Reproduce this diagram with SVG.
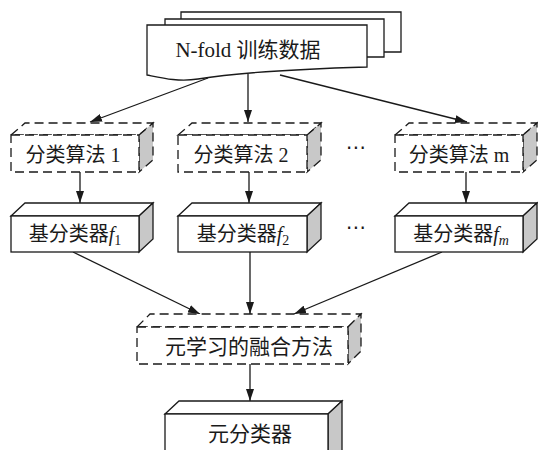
<svg xmlns="http://www.w3.org/2000/svg" width="538" height="450" viewBox="0 0 538 450">
<style>
  .ln { fill: none; stroke: #1a1a1a; stroke-width: 1.3; }
  .face { fill: #ffffff; stroke: #1a1a1a; stroke-width: 1.3; stroke-linejoin: miter; }
  .side { fill: #c8c8c8; stroke: #1a1a1a; stroke-width: 1.3; }
  .dash { stroke-dasharray: 9 5; }
  .t { font-family: "Liberation Serif", "Noto Sans CJK SC", serif; font-size: 20px; fill: #1a1a1a; text-anchor: middle; }
  .t21 { font-size: 21px; }
  .dots { font-family: "DejaVu Sans", sans-serif; font-size: 20px; fill: #1a1a1a; text-anchor: middle; }
</style>
<defs>
  <marker id="ah" markerUnits="userSpaceOnUse" markerWidth="13" markerHeight="8" refX="12" refY="4" orient="auto">
    <path d="M0,0 L12,4 L0,8 z" fill="#1a1a1a"/>
  </marker>
</defs>
<rect width="538" height="450" fill="#ffffff"/>

<g id="connectors" class="ln">
  <line x1="208" y1="78" x2="90" y2="122" marker-end="url(#ah)"/>
  <line x1="248" y1="74" x2="248" y2="122" marker-end="url(#ah)"/>
  <line x1="280" y1="75" x2="467" y2="122" marker-end="url(#ah)"/>
  <line x1="80" y1="172" x2="80" y2="203" marker-end="url(#ah)"/>
  <line x1="249" y1="172" x2="249" y2="203" marker-end="url(#ah)"/>
  <line x1="466" y1="172" x2="466" y2="203" marker-end="url(#ah)"/>
  <line x1="73" y1="252" x2="200" y2="314" marker-end="url(#ah)"/>
  <line x1="250" y1="252" x2="250" y2="314" marker-end="url(#ah)"/>
  <line x1="442" y1="252" x2="294" y2="314" marker-end="url(#ah)"/>
  <line x1="250" y1="364" x2="250" y2="401" marker-end="url(#ah)"/>
</g>

<g id="data">
  <path class="face" d="M181,19 V12 H401 V52 H384"/>
  <path class="face" d="M165,25 V19 H384 V57 H367"/>
  <path class="face" d="M147,25 H367 V67 C300,69 235,73 198,79 C178,82 162,78 147,75 Z"/>
  <text class="t t21" x="248" y="57">N-fold 训练数据</text>
</g>

<g id="alg1">
  <polygon class="face dash" points="11,135 25,123 153,123 139,135"/>
  <polygon class="side dash" points="139,135 153,123 153,160 139,172"/>
  <rect class="face dash" x="11" y="135" width="128" height="37"/>
  <text class="t" x="73" y="162">分类算法 1</text>
</g>
<g id="alg2">
  <polygon class="face dash" points="178,135 192,123 321,123 307,135"/>
  <polygon class="side dash" points="307,135 321,123 321,160 307,172"/>
  <rect class="face dash" x="178" y="135" width="129" height="37"/>
  <text class="t" x="241" y="162">分类算法 2</text>
</g>
<g id="algm">
  <polygon class="face dash" points="395,135 409,123 537,123 523,135"/>
  <polygon class="side dash" points="523,135 537,123 537,160 523,172"/>
  <rect class="face dash" x="395" y="135" width="128" height="37"/>
  <text class="t" x="459" y="162">分类算法 m</text>
</g>
<g id="dots1"><text class="dots" x="356" y="154">⋯</text></g>

<g id="f1">
  <polygon class="face" points="11,216 25,203 153,203 139,216"/>
  <polygon class="side" points="139,216 153,203 153,239 139,252"/>
  <rect class="face" x="11" y="216" width="128" height="36"/>
  <text class="t" x="75" y="241">基分类器<tspan font-style="italic">f</tspan><tspan font-size="14" dy="4">1</tspan></text>
</g>
<g id="f2">
  <polygon class="face" points="178,216 192,203 321,203 307,216"/>
  <polygon class="side" points="307,216 321,203 321,239 307,252"/>
  <rect class="face" x="178" y="216" width="129" height="36"/>
  <text class="t" x="243" y="241">基分类器<tspan font-style="italic">f</tspan><tspan font-size="14" dy="4">2</tspan></text>
</g>
<g id="fm">
  <polygon class="face" points="395,216 409,203 537,203 523,216"/>
  <polygon class="side" points="523,216 537,203 537,239 523,252"/>
  <rect class="face" x="395" y="216" width="128" height="36"/>
  <text class="t" x="461" y="241">基分类器<tspan font-style="italic">f</tspan><tspan font-size="14" dy="4" font-style="italic">m</tspan></text>
</g>
<g id="dots2"><text class="dots" x="356" y="234">⋯</text></g>

<g id="meta">
  <polygon class="face dash" points="137,327 150,314 361,314 348,327"/>
  <polygon class="side dash" points="348,327 361,314 361,351 348,364"/>
  <rect class="face dash" x="137" y="327" width="211" height="37"/>
  <text class="t t21" x="249" y="354">元学习的融合方法</text>
</g>

<g id="final">
  <polygon class="face" points="165,414 179,401 342,401 328,414"/>
  <polygon class="side" points="328,414 342,401 342,452 328,452"/>
  <rect class="face" x="165" y="414" width="163" height="40"/>
  <text class="t t21" x="250" y="441">元分类器</text>
</g>
</svg>
